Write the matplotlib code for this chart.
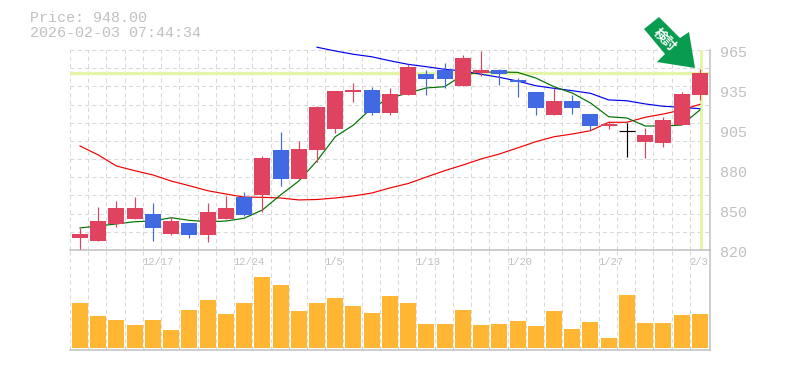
import numpy as np
import matplotlib
matplotlib.use('Agg')
import matplotlib.pyplot as plt
from matplotlib.patches import Polygon

W, H = 785, 370
GRIS = '#c0c0c0'
GRILLA = '#d9d9d9'
ROJO = '#e0435f'
AZUL = '#4169e1'
PALIDO = '#e4f5a8'

# Velas: apertura, maximo, minimo, cierre
apertura = [828.7, 826.5, 838.9, 842.5, 846.1, 831.6, 839.6, 830.9, 842.5, 858.4, 859.9, 892.5,
            871.5, 892.5, 907.7, 934.6, 936.0, 919.3, 932.4, 947.6, 950.5, 938.9, 948.3, 950.5,
            943.3, 934.6, 917.9, 928.0, 918.6, 909.9, 906.3, 898.3, 897.6, 910.6, 932.4]
maximo = [835.7, 851.2, 855.5, 858.4, 854.1, 843.9, 839.6, 854.1, 859.2, 862.0, 888.2, 905.6,
          899.0, 924.6, 935.3, 941.1, 938.2, 937.5, 954.9, 950.5, 955.6, 961.4, 964.3, 951.2,
          944.7, 934.6, 937.5, 932.4, 918.6, 912.8, 912.1, 908.5, 916.4, 934.6, 951.2]
minimo = [820.7, 826.5, 836.7, 842.5, 826.5, 830.9, 828.7, 825.8, 842.5, 844.7, 847.6, 866.4,
          871.5, 883.8, 904.8, 927.3, 917.9, 917.9, 932.4, 932.4, 937.5, 938.9, 946.2, 939.6,
          930.9, 917.9, 917.9, 918.6, 907.0, 907.7, 887.4, 886.7, 894.7, 910.6, 928.8]
cierre = [831.6, 841.0, 850.5, 850.5, 836.0, 841.0, 830.9, 847.6, 850.5, 845.4, 886.7, 871.5,
          893.2, 923.7, 935.3, 936.0, 919.3, 933.1, 952.7, 944.0, 944.0, 959.2, 950.5, 947.6,
          941.8, 923.0, 928.0, 923.0, 909.9, 911.4, 906.3, 903.4, 914.3, 933.1, 948.3]

# Medias moviles
media_verde = [836.0, 837.4, 838.9, 840.5, 841.0, 843.4, 841.5, 840.5, 841.0, 843.0, 849.0, 859.9,
               870.0, 884.7, 902.1, 910.6, 923.0, 930.2, 933.8, 937.5, 938.4, 946.9, 949.0, 949.0,
               948.8, 944.7, 938.4, 933.8, 926.6, 916.6, 915.7, 909.9, 909.9, 910.6, 921.5]
media_roja = [895.4, 888.9, 880.9, 877.5, 874.4, 870.0, 866.6, 863.0, 860.6, 858.4, 858.2, 857.7,
              856.3, 856.6, 857.7, 859.2, 861.3, 865.0, 868.2, 872.9, 877.5, 881.6, 886.0, 889.6,
              894.0, 898.5, 902.1, 904.1, 906.5, 912.6, 912.6, 916.2, 918.6, 921.5, 925.6]
media_azul = [np.nan] * 13 + [967.0, 964.3, 961.9, 960.1, 957.2, 954.6, 952.9, 951.0, 949.8, 947.4,
                              945.2, 942.5, 939.1, 937.2, 935.5, 933.6, 928.8, 928.2, 925.9, 924.2,
                              923.5, 922.4]

volumen = [44.7, 31.7, 27.7, 22.7, 27.7, 17.7, 37.7, 47.7, 33.7, 44.7, 70.7, 62.7, 36.7, 44.7, 49.7,
           41.7, 34.7, 51.7, 45, 24, 24, 38, 23, 24, 27, 22, 37, 19, 26, 10, 53, 25, 25, 33, 34]

precio = 948.0
fechas = ['12/17', '12/24', '1/5', '1/13', '1/20', '1/27', '2/3']
pos_fechas = [4, 9, 14, 19, 24, 29, 34]
etiquetas_y = ['820', '850', '880', '905', '935', '965']


def caja(x0, y0, x1, y1):
    # Convierte pixeles (origen arriba a la izquierda) a fraccion de figura
    return [x0 / W, 1 - y1 / H, (x1 - x0) / W, (y1 - y0) / H]


def grilla(ax):
    for i in range(35):
        ax.axvline(i, color=GRILLA, lw=0.75, ls=(0, (4, 3)), zorder=1)


fig = plt.figure(figsize=(W / 100, H / 100), dpi=100)
ax1 = fig.add_axes(caja(70, 50, 710, 250))
ax2 = fig.add_axes(caja(70, 250, 710, 350))

n = len(cierre)
x = np.arange(n) + 0.55
ancho = 16 / 18.23

# Panel de precios
grilla(ax1)
ax1.set_xlim(0, 640 / 18.23)
ax1.set_ylim(820, 965)
for k in range(1, 12):
    ax1.axhline(820 + k * 145 / 11, color=GRILLA, lw=0.75, ls=(0, (4, 3)), zorder=1, clip_on=False)

ax1.axhline(precio, color=PALIDO, lw=2.3, zorder=2)
ax1.axvline(x[-1] + 0.04, color=PALIDO, lw=2.2, zorder=2, ymin=0.005)

ax1.plot(x, media_azul, color='#0000ee', lw=0.85, zorder=3, clip_on=False)
ax1.plot(x, media_roja, color='#f00000', lw=0.85, zorder=3)
ax1.plot(x, media_verde, color='#007000', lw=0.85, zorder=3)

for i in range(n):
    if cierre[i] > apertura[i]:
        color = ROJO
    elif cierre[i] < apertura[i]:
        color = AZUL
    else:
        color = '#000000'
    ax1.plot([x[i], x[i]], [minimo[i], maximo[i]], color=color, lw=0.85, zorder=4, solid_capstyle='butt')
    alto = abs(cierre[i] - apertura[i])
    if alto == 0:
        ax1.plot([x[i] - ancho / 2, x[i] + ancho / 2], [cierre[i], cierre[i]], color=color, lw=0.85, zorder=5,
                 solid_capstyle='butt')
    else:
        ax1.bar(x[i], alto, ancho, bottom=min(apertura[i], cierre[i]), color=color, lw=0, zorder=5)

ax1.set_xticks([])
ax1.set_yticks([])

# Panel de volumen
grilla(ax2)
ax2.set_xlim(0, 640 / 18.23)
ax2.set_ylim(-2, 98)
ax2.bar(x, volumen, ancho, color='#ffb733', lw=0, zorder=3)
ax2.set_xticks([])
ax2.set_yticks([])

for ax in (ax1, ax2):
    for lado in ax.spines:
        ax.spines[lado].set_visible(False)
    ax.patch.set_alpha(0)

for ax, lado in [(ax1, 'bottom'), (ax1, 'right'), (ax2, 'bottom'), (ax2, 'right')]:
    ax.spines[lado].set_visible(True)
    ax.spines[lado].set_color(GRIS)
    ax.spines[lado].set_linewidth(1.1)

# Etiquetas del eje de precios, a la derecha
for v, e in zip(np.linspace(820, 965, 6), etiquetas_y):
    ax1.annotate(e, (1, v), xycoords=('axes fraction', 'data'), xytext=(7.2, -2.2), textcoords='offset points',
                 ha='left', va='center', family='Liberation Mono', fontsize=10.8, color=GRIS)

# Fechas, alineadas a la izquierda sobre su linea de grilla
for p, f in zip(pos_fechas, fechas):
    ax2.annotate(f, (p, 98), xytext=(-0.5, -4.8), textcoords='offset points', ha='left', va='top',
                 family='Liberation Mono', fontsize=7.6, color=GRIS)

fig.text(30 / W, 1 - 18 / H, 'Price: %.2f' % precio, family='Liberation Mono', fontsize=10.8, color=GRIS,
         va='center')
fig.text(30 / W, 1 - 33 / H, '2026-02-03 07:44:34', family='Liberation Mono', fontsize=10.8, color=GRIS,
         va='center')

# Flecha verde
flecha = [(659, 17), (644, 29), (665, 54), (657, 62), (695, 68), (689, 32), (680, 38)]
fig.add_artist(Polygon([(a / W, 1 - b / H) for a, b in flecha], closed=True, transform=fig.transFigure,
                       facecolor='#089c4f', edgecolor='none', zorder=6))
fig.text(665 / W, 1 - 40 / H, '検討', family=['Noto Sans CJK JP', 'DejaVu Sans'], fontsize=9.5, color='white',
         weight='bold', rotation=-45, ha='center', va='center', zorder=7)

fig.savefig('out.png', dpi=100)
